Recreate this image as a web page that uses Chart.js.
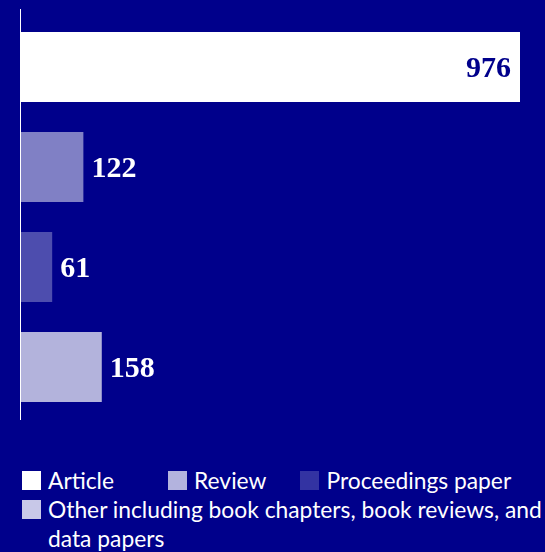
<!DOCTYPE html>
<html>
<head>
<meta charset="utf-8">
<script src="https://cdn.jsdelivr.net/npm/chart.js@4"></script>
<style>
  html, body { margin: 0; padding: 0; background: #00008b; }
  #wrap { position: relative; width: 545px; height: 552px; overflow: hidden; }
  #chartBox { position: absolute; left: 0; top: 0; width: 545px; height: 440px; }
  #legend { position: absolute; left: 22px; top: 466px; width: 530px;
    font-family: "Lato", "Noto Sans", sans-serif; font-size: 22.8px; color: #fff; line-height: 29px;
    display: flex; flex-wrap: wrap; }
  .item { display: flex; align-items: flex-start; }
  .item:nth-child(1) { margin-right: 54px; }
  .item:nth-child(2) { margin-right: 34px; }
  .sw { width: 19px; height: 19px; flex: none; margin-top: 5px; margin-right: 7px; }
  .item.wide { margin-right: 0; width: 530px; }
</style>
</head>
<body>
<div id="wrap">
  <div id="chartBox"><canvas id="chart"></canvas></div>
  <div id="legend"></div>
</div>
<script>
const categorias = ["Article", "Review", "Proceedings paper", "Other including book chapters, book reviews, and data papers"];
const valores = [976, 122, 61, 158];
const coloresBarra = ["#ffffff", "rgba(255,255,255,0.5)", "rgba(255,255,255,0.3)", "rgba(255,255,255,0.7)"];
const coloresLeyenda = ["#ffffff", "#b3b3de", "#3333a2", "#c8c8e8"];

// leyenda en html para que el texto largo pueda partirse
const leyenda = document.getElementById('legend');
categorias.forEach((cat, i) => {
  const div = document.createElement('div');
  div.className = 'item' + (i === 3 ? ' wide' : '');
  div.innerHTML = `<div class="sw" style="background:${coloresLeyenda[i]}"></div><span>${cat}</span>`;
  leyenda.appendChild(div);
});

// etiquetas de valor y linea del eje
const etiquetas = {
  id: 'etiquetas',
  afterDatasetsDraw(chart) {
    const ctx = chart.ctx;
    const area = chart.chartArea;
    ctx.save();
    ctx.strokeStyle = '#ffffff';
    ctx.lineWidth = 1;
    ctx.beginPath();
    ctx.moveTo(area.left - 0.5, area.top - 8);
    ctx.lineTo(area.left - 0.5, area.bottom + 3);
    ctx.stroke();

    ctx.font = 'bold 30px "Liberation Serif", serif';
    ctx.textBaseline = 'middle';
    const meta = chart.getDatasetMeta(0);
    meta.data.forEach((bar, i) => {
      const txt = String(valores[i]);
      // solo la barra larga lleva la etiqueta dentro
      if (bar.x - area.left > (area.right - area.left) / 2) {
        ctx.fillStyle = '#00008b';
        ctx.textAlign = 'right';
        ctx.fillText(txt, bar.x - 9, bar.y + 2);
      } else {
        ctx.fillStyle = '#ffffff';
        ctx.textAlign = 'left';
        ctx.fillText(txt, bar.x + 8, bar.y + 2);
      }
    });
    ctx.restore();
  }
};

new Chart(document.getElementById('chart'), {
  type: 'bar',
  data: {
    labels: categorias,
    datasets: [{
      data: valores,
      backgroundColor: coloresBarra,
      borderWidth: 0,
      barPercentage: 0.7,
      categoryPercentage: 1
    }]
  },
  options: {
    indexAxis: 'y',
    responsive: true,
    maintainAspectRatio: false,
    animation: false,
    layout: { padding: { left: 21, right: 25, top: 17, bottom: 23 } },
    scales: {
      x: { display: false, min: 0, max: 976 },
      y: { display: false }
    },
    plugins: {
      legend: { display: false },
      tooltip: { enabled: false }
    }
  },
  plugins: [etiquetas]
});
</script>
</body>
</html>
